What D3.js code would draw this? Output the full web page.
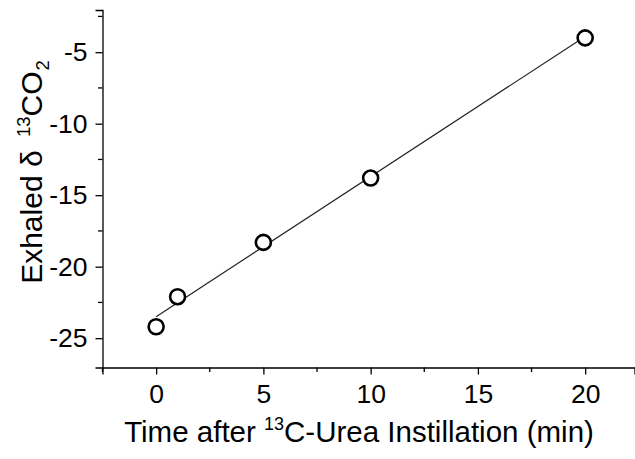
<!DOCTYPE html>
<html><head><meta charset="utf-8">
<script src="https://cdn.jsdelivr.net/npm/d3@7"></script>
<style>html,body{margin:0;padding:0;background:#fff}svg{display:block}</style>
</head><body>
<svg id="c" width="635" height="459"></svg>
<script>
const timeMin = [0, 1, 5, 10, 20];
const delta13CO2 = [-24.2, -22.1, -18.3, -13.8, -4.0];
const fitX = [0, 20];
const fitY = [-23.5, -3.9];
const xTicks = [0, 5, 10, 15, 20];
const yTicks = [-25, -20, -15, -10, -5];
const xMinor = [-2.5, 2.5, 7.5, 12.5, 17.5];
const yMinor = [-22.5, -17.5, -12.5, -7.5, -2.5];

const svg = d3.select("#c");
const font = "'Liberation Sans', Arial, sans-serif";
const x = d3.scaleLinear().domain([-2.5, 22.3]).range([102.5, 634.5]);
const y = d3.scaleLinear().domain([-27.05, -2.05]).range([367.5, 10]);

const gx = svg.append("g").attr("transform", `translate(0,${y(-27.05)})`)
  .call(d3.axisBottom(x).tickValues(xTicks).tickSize(7).tickPadding(10).tickFormat(d3.format("d")));
gx.append("g").selectAll("line").data(xMinor).join("line")
  .attr("x1", d => x(d)).attr("x2", d => x(d)).attr("y1", 0).attr("y2", 4.5).attr("stroke", "#000").attr("stroke-width", 1.3);
const gy = svg.append("g").attr("transform", `translate(${x(-2.5)},0)`)
  .call(d3.axisLeft(y).tickValues(yTicks).tickSize(7).tickPadding(8).tickFormat(d => String(d)));
gy.append("g").selectAll("line").data(yMinor).join("line")
  .attr("y1", d => y(d)).attr("y2", d => y(d)).attr("x1", 0).attr("x2", -4.5).attr("stroke", "#000").attr("stroke-width", 1.3);
[gx, gy].forEach(g => {
  g.select(".domain").attr("stroke", "#000").attr("stroke-width", 1.3);
  g.selectAll(".tick line").attr("stroke", "#000").attr("stroke-width", 1.3);
  g.selectAll("text").attr("font-family", font).attr("font-size", 26.5).attr("fill", "#000");
});

svg.append("path").datum(fitX.map((d, i) => [d, fitY[i]]))
  .attr("d", d3.line().x(d => x(d[0])).y(d => y(d[1])))
  .attr("fill", "none").attr("stroke", "#222").attr("stroke-width", 1.2);

svg.append("g").selectAll("circle").data(timeMin.map((d, i) => [d, delta13CO2[i]])).join("circle")
  .attr("cx", d => x(d[0])).attr("cy", d => y(d[1])).attr("r", 7.5)
  .attr("fill", "#fff").attr("stroke", "#000").attr("stroke-width", 2.6);

const xt = svg.append("text").attr("x", 359).attr("y", 442).attr("text-anchor", "middle")
  .attr("font-family", font).attr("font-size", 29.5).attr("fill", "#000");
xt.append("tspan").text("Time after ");
xt.append("tspan").attr("font-size", 18).attr("dy", -12).text("13");
xt.append("tspan").attr("dy", 12).text("C-Urea Instillation (min)");

const yt = svg.append("text").attr("transform", "translate(42,172) rotate(-90)").attr("text-anchor", "middle")
  .attr("font-family", font).attr("font-size", 30).attr("fill", "#000");
yt.append("tspan").text("Exhaled δ ");
yt.append("tspan").attr("font-size", 18.5).attr("dy", -12).attr("dx", 5).text("13");
yt.append("tspan").attr("dy", 12).text("CO");
yt.append("tspan").attr("font-size", 18.5).attr("dy", 7).attr("dx", 1).text("2");
</script>
</body></html>
